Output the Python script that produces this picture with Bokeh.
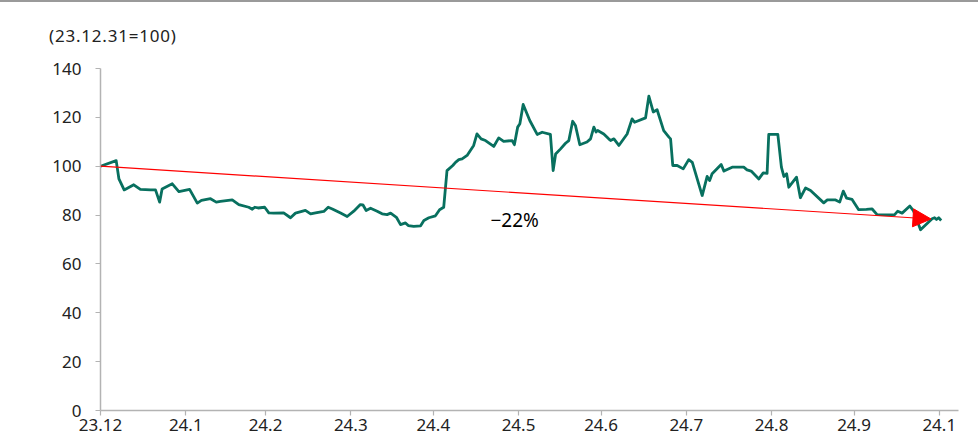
from bokeh.plotting import figure
from bokeh.models import (Range1d, FixedTicker, Label, Arrow, NormalHead, Div)
from bokeh.layouts import column
from bokeh.embed import file_html
from bokeh.resources import INLINE

# x: days since 2023-12-31, values indexed 23.12.31 = 100
days = [0, 5.7, 6.7, 8.6, 12.1, 14.5, 18.2, 20, 21.5, 22.4, 26.1, 28.5, 32.4, 35.2,
        36.7, 40, 42.1, 43.6, 47.9, 50.3, 53.9, 55.2, 56.1, 57.3, 59.7, 61.2, 63,
        66.6, 69.1, 70.9, 74.5, 76.4, 78.2, 81.2, 82.8, 84.3, 87.3, 89.7, 92.1, 94.5,
        95.4, 96.6, 98.2, 100.6, 102.4, 104.2, 105.5, 107.6, 109.1, 110.9, 111.9,
        113.9, 116.4, 117.6, 119.4, 121.8, 123.3, 124.8, 126, 128.1, 129.1, 130.3,
        131.5, 133.3, 135.7, 136.9, 138.4, 140, 143, 144.8, 146.6, 149.7, 150.5,
        151.7, 152.5, 153.7, 156.1, 158.8, 160.6, 163.6, 164.6, 165.5, 167.3, 169.1,
        170.3, 171.7, 172.7, 174.3, 176.9, 178.2, 179.4, 180.2, 180.8, 183, 184.8,
        185.5, 186.7, 188.5, 191.5, 193.3, 194.2, 198.2, 199.4, 201, 202.4, 204.8,
        206.7, 207.3, 208.1, 209.7, 211.9, 213.9, 215.2, 218.8, 220.6, 221.5, 222.4,
        225.7, 226.7, 229.7, 233.9, 235.1, 236.6, 239.4, 241, 242.4, 243, 246.3,
        247.6, 248.5, 249.5, 250.3, 253.1, 254.5, 256.4, 258.2, 263, 264.3, 267.3,
        268.8, 270.1, 271.3, 273.3, 275.7, 278.5, 280.6, 282.4, 288.7, 289.9, 291.5,
        294.3, 295.7, 298.2, 302.4, 303.3, 304, 304.8, 305.7]
values = [100, 102.3, 94.8, 90.3, 92.4, 90.5, 90.3, 90.3, 85.3, 90.7, 92.8, 89.6, 90.5,
          84.9, 86, 86.7, 85.3, 85.6, 86.2, 84.3, 83.2, 82.4, 83.2, 82.9, 83.2, 80.9,
          80.8, 80.9, 78.9, 80.8, 81.9, 80.5, 80.9, 81.5, 83.2, 82.5, 80.8, 79.4, 81.6,
          84.3, 84.2, 81.9, 82.8, 81.6, 80.5, 80.2, 80.8, 79.1, 76.1, 76.8, 75.7, 75.4,
          75.6, 77.8, 78.9, 79.7, 82.2, 83.2, 98.2, 100.3, 101.6, 102.7, 103, 104.4,
          108.5, 113.2, 111.2, 110.5, 108.1, 111.6, 110.2, 110.5, 108.8, 116, 117.4,
          125.3, 118.7, 113, 113.9, 113, 98.2, 105, 107.1, 109.4, 110.5, 118.4, 116.7,
          108.8, 109.9, 111.2, 116, 114, 114.6, 113.2, 111.2, 110.5, 111.2, 108.5,
          113.2, 119.4, 118, 119.8, 128.7, 122.2, 123.1, 114.6, 111.9, 111.2, 100.3,
          100.3, 98.9, 102.7, 101.6, 88, 95.8, 94.1, 96.9, 100.7, 98, 99.6, 99.6, 98.5,
          98, 94.8, 97.3, 97.1, 113, 113, 99.6, 95.8, 96.9, 91.4, 95.5, 87.1, 91.1,
          90.1, 85, 86.2, 86.2, 85.3, 89.8, 86.9, 86.4, 82.2, 82.3, 82.5, 80.2, 80.1,
          81.6, 80.8, 83.7, 81.6, 74, 78.5, 78.9, 78.2, 78.9, 77.8]

tick_days = [0, 31, 60, 91, 121, 152, 182, 213, 244, 274, 305]
tick_labels = ["23.12", "24.1", "24.2", "24.3", "24.4", "24.5", "24.6", "24.7",
               "24.8", "24.9", "24.1"]
y_ticks = [0, 20, 40, 60, 80, 100, 120, 140]

trend_start = (0, 100)
trend_end = (302, 78.4)
trend_text = "\u221222%"
unit_text = "(23.12.31=100)"

FONT = "Noto Sans"
TXT = "#222222"
AX = "#b3b3b3"

p = figure(width=978, height=389, output_backend="svg", toolbar_location=None,
           x_range=Range1d(0, 312), y_range=Range1d(0, 146.55),
           min_border_left=100, min_border_right=20, min_border_top=0,
           min_border_bottom=31)
p.outline_line_color = None
p.xgrid.visible = False
p.ygrid.visible = False

p.line(days, values, line_color="#08705f", line_width=2.8, line_join="round")

p.add_layout(Arrow(x_start=trend_start[0], y_start=trend_start[1],
                   x_end=trend_end[0], y_end=trend_end[1],
                   line_color="#ff0000", line_width=1.2,
                   end=NormalHead(size=18, fill_color="#ff0000",
                                  line_color="#ff0000", line_width=1)))

p.add_layout(Label(x=141.8, y=77.8, text=trend_text, text_font=FONT,
                   text_font_size="19px", text_color="#000000",
                   text_align="left", text_baseline="alphabetic"))

xa = p.xaxis[0]
xa.ticker = FixedTicker(ticks=tick_days)
xa.major_label_overrides = {d: l for d, l in zip(tick_days, tick_labels)}
ya = p.yaxis[0]
ya.ticker = FixedTicker(ticks=y_ticks)
ya.bounds = (0, 140)
for ax in (xa, ya):
    ax.axis_line_color = AX
    ax.axis_line_width = 1.5
    ax.major_tick_line_color = AX
    ax.major_tick_line_width = 1.2
    ax.major_tick_in = 0
    ax.major_tick_out = 5
    ax.minor_tick_line_color = None
    ax.major_label_text_font = FONT
    ax.major_label_text_font_size = "17px"
    ax.major_label_text_color = TXT
xa.major_label_standoff = 3
ya.major_label_standoff = 14

top_rule = Div(width=978, height=2, margin=0,
               styles={"background-color": "#9a9a9a"})
unit_div = Div(text=unit_text, width=978, height=50, margin=0,
               styles={"font-family": "Noto Sans", "font-size": "17px",
                       "color": TXT, "padding-left": "49px",
                       "padding-top": "24px", "line-height": "20px",
                       "letter-spacing": "0.8px",
                       "box-sizing": "border-box"})

layout = column(top_rule, unit_div, p, spacing=0)

open("out.html", "w").write(file_html(layout, INLINE))
